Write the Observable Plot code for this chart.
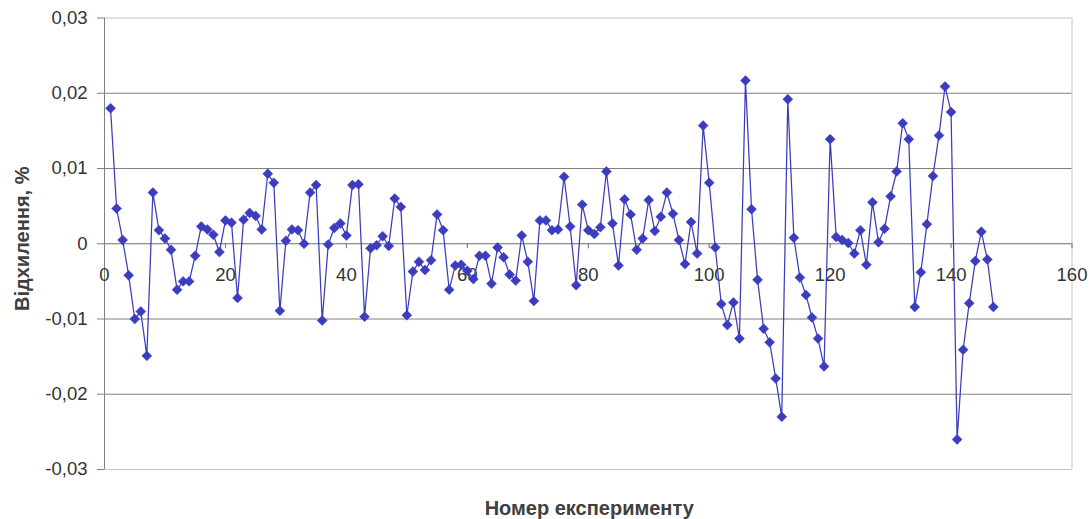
<!DOCTYPE html>
<html>
<head>
<meta charset="utf-8">
<script src="https://cdn.jsdelivr.net/npm/d3@7"></script>
<script src="https://cdn.jsdelivr.net/npm/@observablehq/plot@0.6"></script>
<style>
  html, body { margin: 0; padding: 0; background: #fff; }
  #chart svg { display: block; }
</style>
</head>
<body>
<div id="chart"></div>
<script>
// Deviation (%) for experiments 1..147
const deviation = [
  0.0180, 0.0047, 0.0005, -0.0042, -0.0100, -0.0090, -0.0149, 0.0068, 0.0018, 0.0007,
  -0.0008, -0.0061, -0.0050, -0.0050, -0.0016, 0.0023, 0.0019, 0.0012, -0.0011, 0.0031,
  0.0028, -0.0072, 0.0032, 0.0041, 0.0037, 0.0019, 0.0093, 0.0081, -0.0089, 0.0004,
  0.0019, 0.0018, 0.0000, 0.0068, 0.0078, -0.0102, -0.0001, 0.0021, 0.0027, 0.0011,
  0.0078, 0.0079, -0.0097, -0.0006, -0.0002, 0.0010, -0.0003, 0.0060, 0.0049, -0.0095,
  -0.0037, -0.0024, -0.0035, -0.0022, 0.0039, 0.0018, -0.0061, -0.0029, -0.0028, -0.0036,
  -0.0047, -0.0016, -0.0016, -0.0053, -0.0005, -0.0018, -0.0041, -0.0049, 0.0011, -0.0024,
  -0.0076, 0.0031, 0.0031, 0.0018, 0.0019, 0.0089, 0.0023, -0.0055, 0.0052, 0.0018,
  0.0013, 0.0022, 0.0096, 0.0027, -0.0029, 0.0059, 0.0039, -0.0008, 0.0007, 0.0058,
  0.0017, 0.0036, 0.0068, 0.0040, 0.0005, -0.0027, 0.0029, -0.0013, 0.0157, 0.0081,
  -0.0005, -0.0080, -0.0108, -0.0078, -0.0126, 0.0217, 0.0046, -0.0048, -0.0113, -0.0131,
  -0.0179, -0.0230, 0.0192, 0.0008, -0.0045, -0.0068, -0.0098, -0.0126, -0.0163, 0.0139,
  0.0009, 0.0005, 0.0001, -0.0013, 0.0018, -0.0028, 0.0055, 0.0002, 0.0020, 0.0063,
  0.0096, 0.0160, 0.0139, -0.0084, -0.0038, 0.0026, 0.0090, 0.0144, 0.0209, 0.0175,
  -0.0260, -0.0141, -0.0079, -0.0023, 0.0016, -0.0021, -0.0084
];
const xTicks = [0, 20, 40, 60, 80, 100, 120, 140, 160];
const yTicks = [-0.03, -0.02, -0.01, 0, 0.01, 0.02, 0.03];
const xTitle = "Номер експерименту";
const yTitle = "Відхилення, %";

const data = deviation.map((v, i) => ({n: i + 1, v}));
const fmt = d => d === 0 ? "0" : d.toFixed(2).replace(".", ",");
const xMin = xTicks[0], xMax = xTicks[xTicks.length - 1];
const borderY = [yTicks[0], yTicks[yTicks.length - 1]];
const innerGrid = yTicks.slice(1, -1).filter(d => d !== 0);
const blue = "#3c3cbe";

const chart = Plot.plot({
  width: 1090,
  height: 519,
  marginLeft: 104,
  marginRight: 18.5,
  marginTop: 17.5,
  marginBottom: 50,
  x: {domain: [xMin, xMax], axis: null},
  y: {domain: [borderY[0], borderY[1]]},
  style: {fontFamily: "'Liberation Sans', Arial, sans-serif", background: "#fff", color: "#333", overflow: "visible"},
  marks: [
    Plot.ruleY(borderY, {stroke: "#c4c4c4"}),
    Plot.ruleX([xMax], {stroke: "#c4c4c4"}),
    Plot.ruleY(innerGrid, {stroke: "#808080"}),
    Plot.ruleY([0], {stroke: "#6e6e6e"}),
    Plot.ruleX(xTicks, {x: d => d, y1: () => 0, y2: () => 0, insetBottom: -5, stroke: "#6e6e6e"}),
    Plot.ruleX([xMin], {stroke: "#808080"}),
    Plot.axisY({ticks: yTicks, tickFormat: fmt, tickSize: 7, tickPadding: 10, label: null, fontSize: 18.5, stroke: "#808080", fill: "#333"}),
    Plot.text(xTicks, {x: d => d, y: () => 0, dy: 31, text: d => String(d), fontSize: 18.5, fill: "#333"}),
    Plot.line(data, {x: "n", y: "v", stroke: blue, strokeWidth: 1.25}),
    Plot.dot(data, {x: "n", y: "v", symbol: "diamond2", r: 4.5, fill: blue, stroke: blue, strokeWidth: 0.5}),
    Plot.text([yTitle], {text: d => d, frameAnchor: "left", textAnchor: "middle", lineAnchor: "middle", dx: -82, dy: -5, rotate: -90, fontWeight: "bold", fontSize: 20, fill: "#404040"}),
    Plot.text([xTitle], {text: d => d, frameAnchor: "bottom", textAnchor: "middle", lineAnchor: "middle", dy: 39, dx: 1, fontWeight: "bold", fontSize: 20, fill: "#404040"})
  ]
});
document.getElementById("chart").appendChild(chart);
</script>
</body>
</html>
